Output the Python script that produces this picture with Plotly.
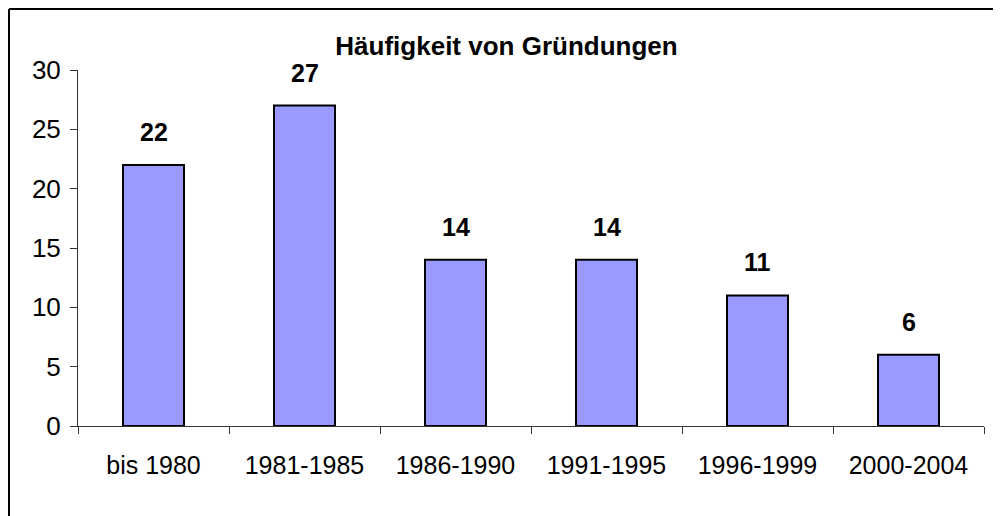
import plotly.graph_objects as go

categories = ["bis 1980", "1981-1985", "1986-1990", "1991-1995", "1996-1999", "2000-2004"]
values = [22, 27, 14, 14, 11, 6]
y_ticks = [0, 5, 10, 15, 20, 25, 30]
title_text = "Häufigkeit von Gründungen"

FONT = "Liberation Sans, Arial, sans-serif"
OFF = 8  # page body margin offset

W, H = 1001, 516
L, R_EDGE, T, B_EDGE = 78 - OFF, 984 - OFF, 70 - OFF, 426 - OFF

fig = go.Figure()
fig.add_trace(go.Bar(
    x=categories, y=values,
    marker=dict(color="#9999FF", line=dict(color="black", width=2)),
    width=0.404,
    hoverinfo="skip",
))

for c, v in zip(categories, values):
    fig.add_annotation(x=c, y=v, text=f"<b>{v}</b>", showarrow=False,
                       yanchor="bottom", yshift=17,
                       font=dict(family=FONT, size=25, color="black"))

fig.update_layout(
    width=W, height=H,
    margin=dict(l=L, r=W - R_EDGE, t=T, b=H - B_EDGE),
    paper_bgcolor="white", plot_bgcolor="white",
    showlegend=False,
    title=dict(text=f"<b>{title_text}</b>", x=(506.5 - OFF) / W, xanchor="center",
               y=1 - (46 - OFF) / H, yanchor="middle", yref="container",
               font=dict(family=FONT, size=26, color="black")),
    font=dict(family=FONT, color="black"),
)
fig.update_yaxes(range=[0, 30], tickvals=y_ticks, showgrid=False, zeroline=False,
                 showline=True, linecolor="#333333", linewidth=1,
                 ticks="outside", ticklen=7, tickcolor="#333333",
                 tickfont=dict(family=FONT, size=26, color="black"),
                 ticklabelstandoff=4, fixedrange=True)
fig.update_xaxes(showgrid=False, showline=True, linecolor="#333333", linewidth=1,
                 ticks="outside", ticklen=7, tickcolor="#333333",
                 tickson="boundaries",
                 tickfont=dict(family=FONT, size=25, color="black"),
                 ticklabelstandoff=17, fixedrange=True)

# outer chart frame (left and top edges visible)
pw = R_EDGE - L
ph = B_EDGE - T
x_left = ((9 - OFF) - L) / pw
y_top = (B_EDGE - (8 - OFF) - 1) / ph
fig.add_shape(type="line", xref="paper", yref="paper", x0=x_left, x1=x_left,
              y0=-1, y1=y_top, line=dict(color="black", width=2))
fig.add_shape(type="line", xref="paper", yref="paper", x0=x_left, x1=2,
              y0=y_top, y1=y_top, line=dict(color="black", width=2))

fig.write_html("out.html")
